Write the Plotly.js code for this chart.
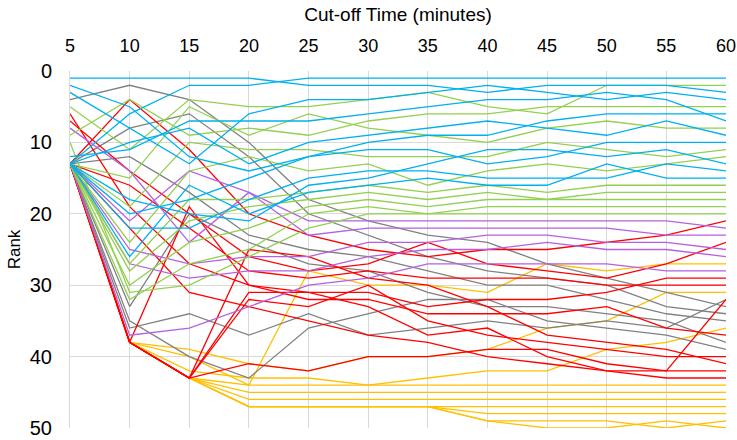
<!DOCTYPE html>
<html><head><meta charset="utf-8">
<script src="https://cdn.plot.ly/plotly-3.0.1.min.js"></script>
<style>html,body{margin:0;padding:0;background:#fff}#chart{width:737px;height:440px}</style>
</head><body><div id="chart"></div>
<script>
const times = [5,10,15,20,25,30,35,40,45,50,55,60];
const xTickLabels = ["5","10","15","20","25","30","35","40","45","50","55","60"];
const yTickVals = [0,10,20,30,40,50];

const blueSeries = [
 [1,1,1,1,2,2,2,3,2,2,2,3],
 [2,5,12,14,12,10,9,9,7,6,6,6],
 [3,8,13,6,4,4,3,2,3,4,3,4],
 [13,6,2,2,1,1,1,1,1,1,1,1],
 [12,11,7,7,7,6,5,4,4,3,4,7],
 [13,10,8,13,10,9,8,7,8,9,7,9],
 [13,20,18,15,12,11,11,13,12,10,10,10],
 [13,18,20,21,16,15,13,11,11,12,11,13],
 [13,22,22,18,15,14,14,15,15,15,13,14],
 [13,26,16,20,17,16,15,16,16,13,15,15]
];
const greenSeries = [
 [5,11,4,5,5,4,3,5,6,2,2,2],
 [9,4,9,8,9,7,6,6,5,5,5,5],
 [13,15,5,9,6,8,9,10,8,7,8,8],
 [13,19,10,11,11,12,12,12,10,11,12,11],
 [13,24,14,12,14,13,16,14,13,14,13,12],
 [13,27,18,18,17,16,17,16,17,16,16,16],
 [13,28,21,19,18,17,18,17,18,17,17,17],
 [13,30,24,22,19,18,19,18,18,18,18,18],
 [13,32,27,25,20,19,20,19,19,19,19,19],
 [10,31,30,26,22,20,20,20,20,20,20,20]
];
const graySeries = [
 [4,2,4,10,18,21,23,24,27,29,31,33],
 [13,8,6,12,20,23,26,28,29,30,33,34],
 [13,12,17,23,25,26,28,30,30,32,34,35],
 [13,33,20,24,27,28,31,33,33,34,35,38],
 [13,35,40,43,36,34,32,32,35,36,37,39],
 [13,36,34,37,34,37,36,35,36,35,36,32]
];
const purpleSeries = [
 [8,14,24,17,21,21,21,21,21,21,21,22],
 [13,21,14,17,23,22,22,22,22,22,23,23],
 [13,25,27,26,26,24,24,23,23,24,24,25],
 [13,27,29,28,28,26,25,25,24,25,25,26],
 [13,37,36,33,30,29,27,27,27,27,28,28]
];
const redSeries = [
 [6,19,27,30,31,31,33,32,32,31,29,29],
 [7,14,20,26,28,27,24,27,28,29,27,24],
 [13,4,11,20,23,25,26,25,25,24,23,21],
 [13,16,22,28,29,28,29,29,29,30,30,30],
 [13,38,19,30,32,32,34,34,34,33,36,37],
 [13,38,43,32,33,30,35,37,38,39,40,40],
 [13,38,43,25,26,29,30,33,37,38,39,41],
 [13,38,43,41,42,40,40,39,39,41,42,42],
 [13,38,43,31,31,33,37,36,40,42,43,43],
 [13,22,31,33,35,37,38,40,41,42,42,32]
];
const yellowSeries = [
 [13,38,40,44,28,30,30,31,27,28,27,27],
 [13,38,39,41,42,40,40,39,36,35,31,31],
 [13,38,42,43,43,44,43,42,42,39,38,36],
 [13,38,43,44,44,44,44,44,44,44,44,44],
 [13,38,43,45,45,45,45,45,45,45,45,45],
 [13,38,43,46,46,46,46,46,46,46,46,46],
 [13,38,43,47,47,47,47,47,47,47,47,47],
 [13,38,43,47,47,47,47,48,48,48,48,48],
 [13,38,43,47,47,47,47,49,50,50,49,50],
 [13,38,43,47,47,47,47,49,49,49,50,49]
];

const groups = [
 {data: yellowSeries, color: "#FFC000"},
 {data: graySeries, color: "#808080"},
 {data: redSeries, color: "#FF0000"},
 {data: purpleSeries, color: "#B660E0"},
 {data: greenSeries, color: "#92D050"},
 {data: blueSeries, color: "#00B0F0"}
];

const traces = [];
groups.forEach(g => g.data.forEach(vals => traces.push({
  x: times, y: vals, type: "scatter", mode: "lines",
  line: {color: g.color, width: 1.3}, hoverinfo: "skip", showlegend: false
})));

const layout = {
  width: 737, height: 440,
  margin: {l: 70, r: 11, t: 71, b: 12},
  paper_bgcolor: "#fff", plot_bgcolor: "#fff",
  font: {family: "Liberation Sans, Arial, sans-serif", size: 16, color: "#000"},
  xaxis: {
    side: "top", range: [5, 60], tickvals: times, ticktext: xTickLabels,
    showgrid: true, gridcolor: "#D9D9D9", gridwidth: 1, zeroline: false,
    showline: false, ticks: "outside", ticklen: 11, tickcolor: "rgba(0,0,0,0)",
    tickfont: {size: 18},
    title: {text: "Cut-off Time (minutes)", font: {size: 19}, standoff: 9}
  },
  yaxis: {
    range: [50, 0], tickvals: yTickVals, ticktext: yTickVals.map(String),
    showgrid: true, gridcolor: "#D9D9D9", gridwidth: 1, zeroline: false,
    showline: true, linecolor: "#D9D9D9", ticks: "outside", ticklen: 13,
    tickcolor: "rgba(0,0,0,0)", tickfont: {size: 20},
    title: {text: "Rank", font: {size: 17}, standoff: 4}
  }
};
Plotly.newPlot("chart", traces, layout, {displayModeBar: false, staticPlot: true});
</script></body></html>
